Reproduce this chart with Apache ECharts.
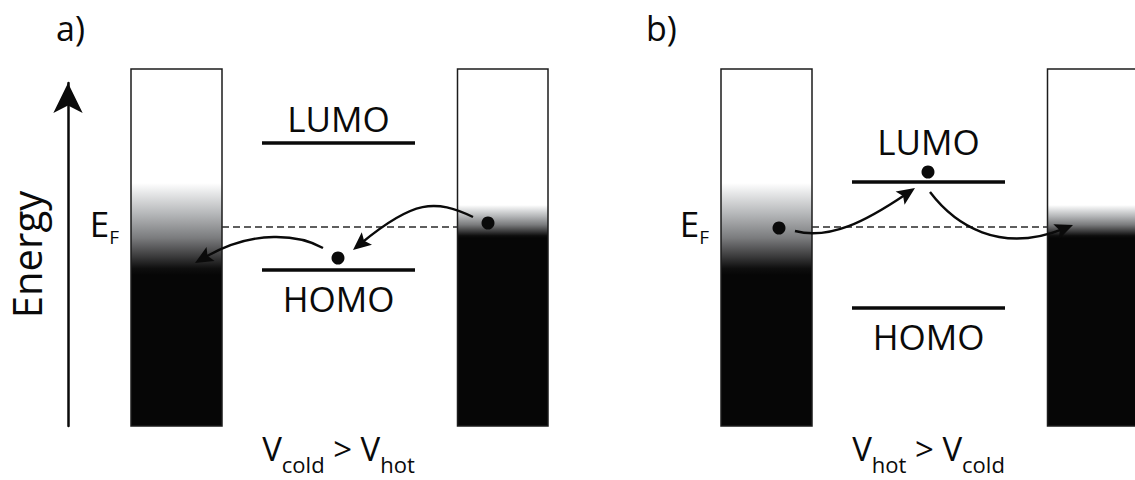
<!DOCTYPE html>
<html>
<head>
<meta charset="utf-8">
<script src="https://cdn.jsdelivr.net/npm/echarts@6/dist/echarts.min.js"></script>
<style>
  html, body { margin: 0; padding: 0; background: #fff; }
  #chart { width: 1135px; height: 480px; }
</style>
</head>
<body>
<div id="chart"></div>
<script>
// Energy diagrams of a molecular junction between a cold and a hot lead.
// x: position across one panel, E: energy relative to E_F (arbitrary units).
const panelLabels = ['a)', 'b)'];
const leadX = [[13.1, 22.2], [45.75, 54.8]];          // left lead, right lead
const leadE = [15.8, -19.9];                           // top and bottom of the leads
const leadSmear = [[4.4, -4.8], [2.2, -1.1]];          // Fermi tail of each lead [upper, lower]
const levelX = [26.2, 41.5];                           // extent of the molecular levels
const lumoE = [8.4, 4.5];
const homoE = [-4.3, -8.1];
const fermiE = 0;
const electrons = [
  [[48.8, 0.4], [33.8, -3.1]],
  [[18.9, -0.1], [33.8, 5.5]]
];
// electron hops: cubic Bezier control points x0,E0, x1,E1, x2,E2, x3,E3
const hops = [
  [[47.3, 1.0, 43.5, 2.8, 40.5, 2.0, 35.3, -2.3],
   [32.3, -2.1, 30.0, -0.8, 24.5, -0.7, 19.5, -3.6]],
  [[20.5, -0.4, 24.0, -1.3, 28.5, 1.2, 32.5, 3.9],
   [34.0, 3.5, 36.5, 0.2, 42.0, -2.3, 48.3, 0.2]]
];
const levelNames = ['LUMO', 'HOMO'];
const biasHigh = ['cold', 'hot'];
const biasLow = ['hot', 'cold'];
const fermiName = ['E', 'F'];
const axisName = 'Energy';
const energyRange = [-19.9, 14.4];
const positionRange = [6.8, 54.5];

const FONT = '"Open Sans", "Noto Sans", sans-serif';
const INK = '#0a0a0a';
const MIDDLE = 0.388;   // centre of the Open Sans line box above the baseline, in em

const mctx = document.createElement('canvas').getContext('2d');
function widthOf(text, size) {
  mctx.font = size + 'px "Open Sans"';
  return mctx.measureText(text).width;
}
// text runs sharing one baseline; parts may drop below it as subscripts
function textRun(parts, x, baseline, align) {
  const widths = parts.map(p => widthOf(p.text, p.size));
  const total = widths.reduce((a, b) => a + b, 0);
  let cx = align === 'center' ? x - total / 2 : align === 'right' ? x - total : x;
  return {
    type: 'group',
    children: parts.map((p, i) => {
      const el = {
        type: 'text',
        style: {
          text: p.text, x: cx, y: baseline + (p.drop || 0) - MIDDLE * p.size,
          fontSize: p.size, fontFamily: FONT, fill: INK,
          align: 'left', verticalAlign: 'middle'
        }
      };
      cx += widths[i];
      return el;
    })
  };
}

const smearStops = [
  { offset: 0, color: '#ffffff' },
  { offset: 0.12, color: '#e4e5e6' },
  { offset: 0.35, color: '#b2b4b6' },
  { offset: 0.6, color: '#7a7b7d' },
  { offset: 0.8, color: '#3a3a3b' },
  { offset: 0.93, color: '#0e0e0e' },
  { offset: 1, color: '#060606' }
];

function panelSeries(p) {
  const base = { xAxisIndex: p, yAxisIndex: p, silent: true, clip: false };
  return [
    // metal leads with their Fermi tails
    Object.assign({}, base, {
      type: 'custom',
      data: leadX.map((x, i) => [x[0], x[1], leadE[0], leadE[1], leadSmear[i][0], leadSmear[i][1]]),
      renderItem(params, api) {
        const a = api.coord([api.value(0), api.value(2)]);
        const b = api.coord([api.value(1), api.value(3)]);
        const s0 = api.coord([api.value(0), api.value(4)])[1];
        const s1 = api.coord([api.value(0), api.value(5)])[1];
        return {
          type: 'rect',
          shape: { x: a[0], y: a[1], width: b[0] - a[0], height: b[1] - a[1] },
          style: {
            fill: new echarts.graphic.LinearGradient(0, s0, 0, s1, smearStops, true),
            stroke: '#1c1c1c', lineWidth: 1.5
          }
        };
      }
    }),
    // Fermi level between the leads
    Object.assign({}, base, {
      type: 'custom',
      data: [[leadX[0][1], leadX[1][0], fermiE]],
      renderItem(params, api) {
        const a = api.coord([api.value(0), api.value(2)]);
        const b = api.coord([api.value(1), api.value(2)]);
        return {
          type: 'line',
          shape: { x1: a[0], y1: a[1], x2: b[0], y2: b[1] },
          style: { stroke: '#2a2a2a', lineWidth: 1.4, lineDash: [7, 4] }
        };
      }
    }),
    // E_F label
    Object.assign({}, base, {
      type: 'custom',
      data: [[leadX[0][0], fermiE]],
      renderItem(params, api) {
        const a = api.coord([api.value(0), api.value(1)]);
        return textRun([{ text: fermiName[0], size: 35 }, { text: fermiName[1], size: 19, drop: 7 }],
          a[0] - 12, a[1] + 10, 'right');
      }
    }),
    // molecular levels
    Object.assign({}, base, {
      type: 'custom',
      data: [[levelX[0], levelX[1], lumoE[p], 0], [levelX[0], levelX[1], homoE[p], 1]],
      renderItem(params, api) {
        const a = api.coord([api.value(0), api.value(2)]);
        const b = api.coord([api.value(1), api.value(2)]);
        const isLumo = api.value(3) === 0;
        let baseline;
        if (isLumo) {
          baseline = a[1] - 11;
          electrons[p].forEach(e => {
            const pe = api.coord(e);
            if (pe[0] > a[0] && pe[0] < b[0] && a[1] - pe[1] > 0 && a[1] - pe[1] < 20) {
              baseline = Math.min(baseline, pe[1] - 17);
            }
          });
        } else {
          baseline = a[1] + 42;
        }
        return {
          type: 'group',
          children: [
            {
              type: 'line',
              shape: { x1: a[0], y1: a[1], x2: b[0], y2: b[1] },
              style: { stroke: INK, lineWidth: 3.5 }
            },
            textRun([{ text: levelNames[api.value(3)], size: 35 }], (a[0] + b[0]) / 2, baseline, 'center')
          ]
        };
      }
    }),
    // electron hops
    Object.assign({}, base, {
      type: 'custom',
      data: hops[p],
      renderItem(params, api) {
        const pts = [0, 1, 2, 3].map(k => api.coord([api.value(2 * k), api.value(2 * k + 1)]));
        const [p0, p1, p2, p3] = pts;
        let dx = p3[0] - p2[0], dy = p3[1] - p2[1];
        const len = Math.hypot(dx, dy); dx /= len; dy /= len;
        const L = 18, W = 8, back = 11;
        const nx = -dy, ny = dx;
        const bx = p3[0] - dx * L, by = p3[1] - dy * L;
        return {
          type: 'group',
          children: [
            {
              type: 'bezierCurve',
              shape: {
                x1: p0[0], y1: p0[1], cpx1: p1[0], cpy1: p1[1],
                cpx2: p2[0] - dx * back, cpy2: p2[1] - dy * back,
                x2: p3[0] - dx * back, y2: p3[1] - dy * back
              },
              style: { stroke: INK, fill: 'none', lineWidth: 2.4 }
            },
            {
              type: 'polygon',
              shape: { points: [
                [p3[0], p3[1]],
                [bx + nx * W, by + ny * W],
                [p3[0] - dx * L * 0.8, p3[1] - dy * L * 0.8],
                [bx - nx * W, by - ny * W]
              ] },
              style: { fill: INK }
            }
          ]
        };
      }
    }),
    // electrons
    Object.assign({}, base, {
      type: 'scatter',
      data: electrons[p],
      symbol: 'circle',
      symbolSize: 13,
      itemStyle: { color: INK, opacity: 1 }
    }),
    // bias condition under the junction
    Object.assign({}, base, {
      type: 'custom',
      data: [[(levelX[0] + levelX[1]) / 2, leadE[1]]],
      renderItem(params, api) {
        const a = api.coord([api.value(0), api.value(1)]);
        return textRun([
          { text: 'V', size: 33 },
          { text: biasHigh[p], size: 22, drop: 12 },
          { text: ' > ', size: 33 },
          { text: 'V', size: 33 },
          { text: biasLow[p], size: 22, drop: 12 }
        ], a[0], a[1] + 35, 'center');
      }
    })
  ];
}

const chart = echarts.init(document.getElementById('chart'), null, { renderer: 'svg' });
chart.setOption({
  animation: false,
  backgroundColor: '#ffffff',
  title: panelLabels.map((t, i) => ({
    text: t, left: 56 + 590 * i, top: 11, padding: 0,
    textStyle: { fontSize: 34, fontWeight: 'normal', fontFamily: FONT, color: INK }
  })),
  grid: [
    { left: 68, top: 83, width: 477, height: 343 },
    { left: 658, top: 83, width: 477, height: 343 }
  ],
  xAxis: [0, 1].map(i => ({
    gridIndex: i, type: 'value', min: positionRange[0], max: positionRange[1], show: false
  })),
  yAxis: [0, 1].map(i => ({
    gridIndex: i, type: 'value', min: energyRange[0], max: energyRange[1],
    show: i === 0,
    name: i === 0 ? axisName : '',
    nameLocation: 'middle', nameRotate: 90, nameGap: 22,
    nameTextStyle: { fontSize: 40, fontFamily: FONT, color: INK },
    axisLine: {
      show: true, onZero: false, symbol: ['none', 'arrow'], symbolSize: [22, 30],
      lineStyle: { color: INK, width: 2.5 }
    },
    axisTick: { show: false },
    axisLabel: { show: false },
    splitLine: { show: false }
  })),
  series: panelSeries(0).concat(panelSeries(1))
});
</script>
</body>
</html>
